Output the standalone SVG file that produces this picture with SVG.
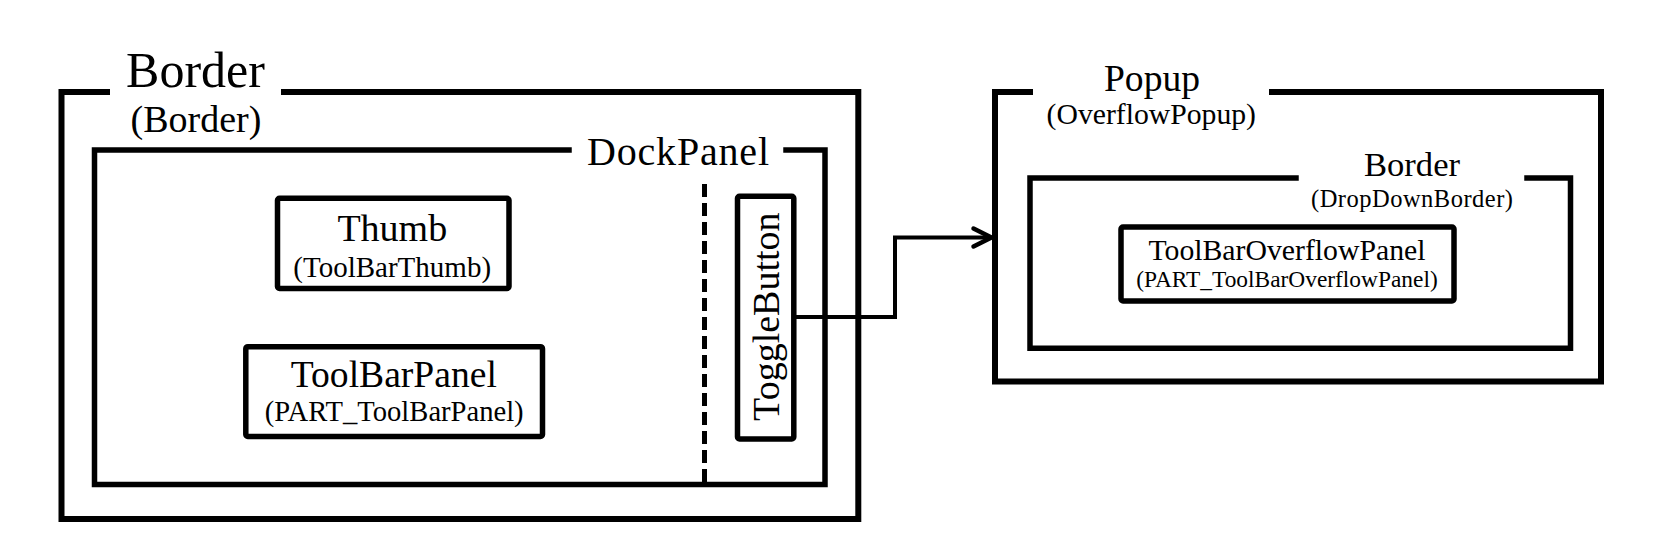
<svg xmlns="http://www.w3.org/2000/svg" width="1673" height="559" viewBox="0 0 1673 559">
  <style>
    .frame { fill: none; stroke: #000; stroke-width: 6; stroke-linecap: square; }
    .box { fill: none; stroke: #000; stroke-width: 5.5; stroke-linejoin: round; }
    .dash { fill: none; stroke: #000; stroke-width: 5; stroke-dasharray: 13 6; }
    .conn { fill: none; stroke: #000; stroke-width: 4; stroke-linejoin: miter; }
    .arrow { fill: none; stroke: #000; stroke-width: 4.5; stroke-linecap: round; stroke-linejoin: round; }
    text { font-family: "Liberation Serif", "Times New Roman", serif; fill: #000; text-anchor: middle; }
  </style>
  <rect width="1673" height="559" fill="#fff"/>

  <g id="outer-border">
    <path class="frame" d="M107 92 H61.5 V519 H858.3 V92 H284"/>
    <text x="195.5" y="86.7" font-size="50">Border</text>
    <text x="196" y="131.7" font-size="38">(Border)</text>
  </g>

  <g id="dockpanel">
    <path class="frame" style="stroke-width:5.5" d="M569 150 H94.5 V484.5 H825 V150 H786"/>
    <text x="678" y="165" font-size="40" textLength="182">DockPanel</text>
    <line class="dash" x1="704.5" y1="184" x2="704.5" y2="484"/>
  </g>

  <g id="thumb">
    <rect class="box" x="277.5" y="198.3" width="231.5" height="90.2" rx="2"/>
    <text x="392.3" y="241" font-size="38">Thumb</text>
    <text x="392.2" y="276.7" font-size="29">(ToolBarThumb)</text>
  </g>

  <g id="toolbarpanel">
    <rect class="box" x="245.8" y="346.7" width="296.7" height="89.8" rx="2"/>
    <text x="393.8" y="386.7" font-size="37.6">ToolBarPanel</text>
    <text x="394.2" y="420.7" font-size="28.6">(PART_ToolBarPanel)</text>
  </g>

  <g id="togglebutton">
    <rect class="box" x="737.5" y="196.3" width="56.3" height="242.7" rx="2"/>
    <text transform="translate(779 316.7) rotate(-90)" x="0" y="0" font-size="38">ToggleButton</text>
  </g>

  <g id="popup">
    <path class="frame" d="M1030 92 H995 V381.5 H1601 V92 H1272"/>
    <text x="1152" y="90.7" font-size="37.6">Popup</text>
    <text x="1151.3" y="124" font-size="29.7">(OverflowPopup)</text>
  </g>

  <g id="dropdownborder">
    <path class="frame" style="stroke-width:5.5" d="M1296 178 H1030 V348.3 H1570.5 V178 H1527"/>
    <text x="1412" y="176" font-size="34.6">Border</text>
    <text x="1412" y="206.7" font-size="24.5" textLength="202">(DropDownBorder)</text>
  </g>

  <g id="toolbaroverflowpanel">
    <rect class="box" x="1121" y="227" width="333" height="74" rx="2"/>
    <text x="1287" y="260" font-size="29.75">ToolBarOverflowPanel</text>
    <text x="1287" y="287.3" font-size="23.4">(PART_ToolBarOverflowPanel)</text>
  </g>

  <g id="connectors">
    <path class="conn" d="M796 317 H895 V237.5 H990"/>
    <path class="arrow" d="M973.5 228.5 L991.5 237.5 L973.5 246.5"/>
  </g>
</svg>
